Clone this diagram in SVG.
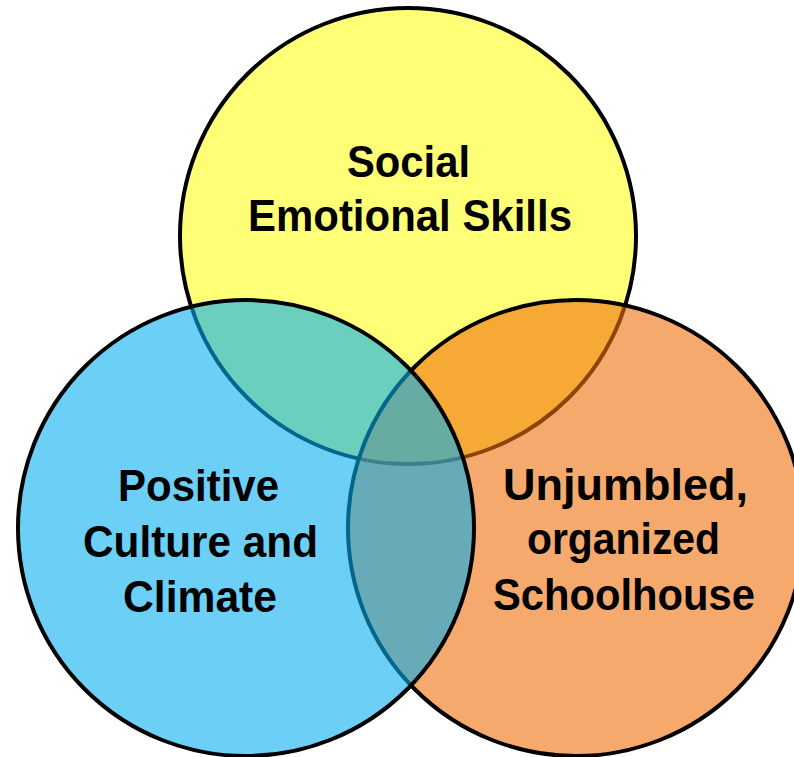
<svg xmlns="http://www.w3.org/2000/svg" width="794" height="757" viewBox="0 0 794 757">
  <style>
    .ring { stroke: #000; stroke-width: 4; }
    .lbl { font-family: "Liberation Sans", Arial, sans-serif; font-weight: bold; font-size: 44px; fill: #000; text-anchor: middle; }
  </style>
  <rect width="794" height="757" fill="#fff"/>
  <g id="social-emotional-skills">
    <circle class="ring" cx="408" cy="236" r="228" fill="#FFFF77"/>
    <text class="lbl" x="408.5" y="177" textLength="123" lengthAdjust="spacingAndGlyphs">Social</text>
    <text class="lbl" x="410" y="231" textLength="324" lengthAdjust="spacingAndGlyphs">Emotional Skills</text>
  </g>
  <g id="unjumbled-schoolhouse">
    <circle class="ring" cx="576" cy="528" r="228" fill="rgb(240,112,10)" fill-opacity="0.6"/>
    <text class="lbl" x="625.5" y="500" textLength="245" lengthAdjust="spacingAndGlyphs">Unjumbled,</text>
    <text class="lbl" x="623.5" y="554" textLength="193" lengthAdjust="spacingAndGlyphs">organized</text>
    <text class="lbl" x="624" y="610" textLength="262" lengthAdjust="spacingAndGlyphs">Schoolhouse</text>
  </g>
  <g id="positive-culture-climate">
    <circle class="ring" cx="246" cy="528" r="228" fill="rgb(4,174,240)" fill-opacity="0.59"/>
    <text class="lbl" x="198.5" y="501" textLength="161" lengthAdjust="spacingAndGlyphs">Positive</text>
    <text class="lbl" x="200.5" y="557" textLength="235" lengthAdjust="spacingAndGlyphs">Culture and</text>
    <text class="lbl" x="200" y="612" textLength="154" lengthAdjust="spacingAndGlyphs">Climate</text>
  </g>
</svg>
